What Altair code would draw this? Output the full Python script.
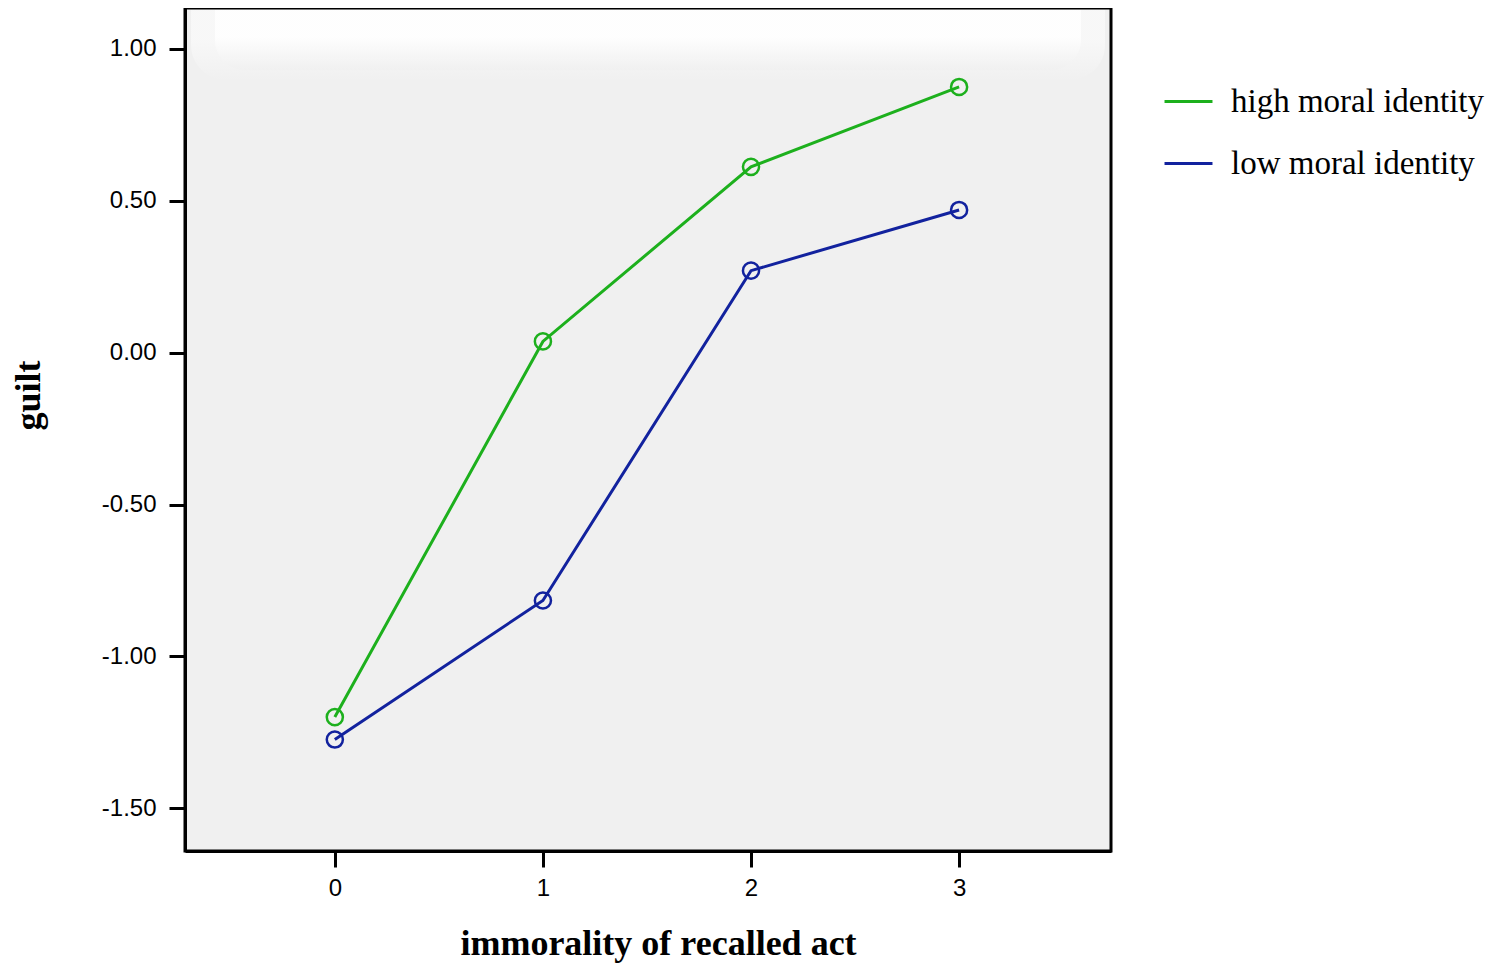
import altair as alt
import pandas as pd

acts = [0, 1, 2, 3]
high_vals = [-1.20, 0.037, 0.612, 0.875]
low_vals = [-1.274, -0.816, 0.270, 0.470]
groups = ["high moral identity", "low moral identity"]
colors = ["#1db01d", "#12229e"]
y_ticks = [1.0, 0.5, 0.0, -0.5, -1.0, -1.5]

rows = []
for a, v in zip(acts, high_vals):
    rows.append({"act": a, "guilt": v, "group": groups[0]})
for a, v in zip(acts, low_vals):
    rows.append({"act": a, "guilt": v, "group": groups[1]})
df = pd.DataFrame(rows)

W, H = 926, 843

xscale = alt.Scale(domain=[-0.72, 3.73], nice=False, zero=False)
yscale = alt.Scale(domain=[-1.641, 1.135], nice=False, zero=False)
cscale = alt.Scale(domain=groups, range=colors)

xaxis = alt.Axis(values=acts, format="d", title="immorality of recalled act",
                 grid=False, domainColor="black", domainWidth=3,
                 tickColor="black", tickWidth=3, tickSize=16,
                 labelFont="Liberation Sans", labelFontSize=24, labelColor="black",
                 labelPadding=9,
                 titleFont="Liberation Serif", titleFontSize=36, titleFontWeight="bold",
                 titleColor="black", titleX=473, titleY=92, titleBaseline="middle",
                 titleAlign="center")
yaxis = alt.Axis(values=y_ticks, title="guilt",
                 labelExpr="replace(format(datum.value, '.2f'), '\u2212', '-')",
                 grid=False, domainColor="black", domainWidth=3,
                 tickColor="black", tickWidth=3, tickSize=16,
                 labelFont="Liberation Sans", labelFontSize=24, labelColor="black",
                 labelPadding=13,
                 titleFont="Liberation Serif", titleFontSize=36, titleFontWeight="bold",
                 titleColor="black", titleX=-157, titleY=387, titleBaseline="middle",
                 titleAlign="center", titleAngle=-90)

def glow_layer(x0, x1, y1, radius, opacity):
    return alt.Chart(pd.DataFrame({"k": [0]})).mark_rect(
        color=alt.Gradient(gradient="linear",
                           stops=[alt.GradientStop(color="#ffffff", offset=0),
                                  alt.GradientStop(color="#ffffff", offset=0.45),
                                  alt.GradientStop(color="#f0f0f0", offset=1)],
                           x1=0, x2=0, y1=0, y2=1),
        cornerRadiusBottomLeft=radius, cornerRadiusBottomRight=radius, opacity=opacity,
    ).encode(x=alt.value(x0), x2=alt.value(x1), y=alt.value(2), y2=alt.value(y1))

glow1 = glow_layer(6, W - 6, 72, 45, 0.5)
glow2 = glow_layer(30, W - 30, 62, 40, 0.8)

base = alt.Chart(df)

lines = base.mark_line(strokeWidth=3).encode(
    x=alt.X("act:Q", scale=xscale, axis=xaxis),
    y=alt.Y("guilt:Q", scale=yscale, axis=yaxis),
    color=alt.Color("group:N", scale=cscale,
                    legend=alt.Legend(title=None, orient="none", legendX=978, legendY=68,
                                      symbolType="stroke", symbolSize=2300,
                                      symbolStrokeWidth=3, labelFont="Liberation Serif",
                                      labelFontSize=33, labelColor="black",
                                      labelOffset=17, rowPadding=19, padding=0,
                                      labelLimit=400)),
)

points = base.mark_point(shape="circle", filled=False, size=260, strokeWidth=2.5, opacity=1).encode(
    x=alt.X("act:Q", scale=xscale),
    y=alt.Y("guilt:Q", scale=yscale),
    color=alt.Color("group:N", scale=cscale, legend=None),
)

chart = alt.layer(glow1, glow2, lines, points).properties(
    width=W, height=H,
    autosize=alt.AutoSizeParams(type="none"),
    padding={"left": 177, "top": 0, "right": 386, "bottom": 120},
    background="white",
).configure_view(fill="#f0f0f0", stroke="black", strokeWidth=3)

chart.save("out.html", embed_options={"renderer": "svg", "actions": False})
